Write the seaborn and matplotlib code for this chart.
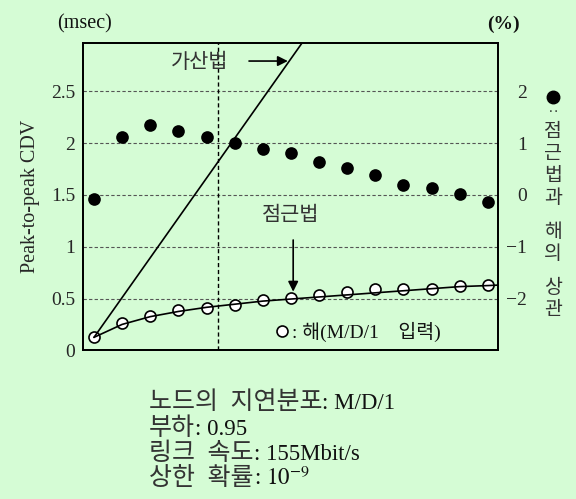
import matplotlib
matplotlib.use('Agg')
import numpy as np
import pandas as pd
import matplotlib.pyplot as plt
from matplotlib.lines import Line2D
from matplotlib.offsetbox import TextArea, HPacker, AnchoredOffsetbox
import seaborn as sns

# values
hops = [1, 2, 3, 4, 5, 6, 7, 8, 9, 10, 11, 12, 13, 14, 15]
solution_cdv = [0.125, 0.26, 0.335, 0.385, 0.405, 0.435, 0.49, 0.505, 0.53,
                0.56, 0.595, 0.595, 0.59, 0.625, 0.63]
asym_x = [1, 2, 3, 4, 5, 6, 7, 8, 9, 10, 11, 12, 13, 14, 15, 15.4]
asym_cdv = [0.125, 0.25, 0.325, 0.375, 0.415, 0.445, 0.475, 0.495, 0.515,
            0.535, 0.555, 0.575, 0.595, 0.615, 0.625, 0.63]
additive_x = [1, 9]
additive_cdv = [0.125, 3.2]
correlation_pct = [-0.07, 1.12, 1.36, 1.24, 1.12, 1.0, 0.89, 0.81, 0.64,
                   0.52, 0.39, 0.20, 0.14, 0.015, -0.13]
ref_x = 5.42

left_ticks = [0, 0.5, 1, 1.5, 2, 2.5]
left_ticklabels = ['0', '0.5', '1', '1.5', '2', '2.5']
right_ticks = [-2, -1, 0, 1, 2]
right_ticklabels = ['\u22122', '\u22121', '0', '1', '2']

corr_words = ['점근법과', '해의', '상관']
cond_kor = ['노드의\u2002지연분포', '부하', '링크\u2002속도', '상한\u2002확률']
cond_lat = [': M/D/1', ': 0.95', ': 155Mbit/s', ': $10^{-9}$']

BG = '#d5fcd5'
FS = 14
KOR_COLOR = '#333333'

sns.set_theme(style='white')
plt.rcParams['font.family'] = ['Liberation Serif', 'Noto Sans CJK KR']
plt.rcParams['mathtext.fontset'] = 'stix'
plt.rcParams['text.color'] = '#111111'

fig = plt.figure(figsize=(5.76, 4.99), dpi=100, facecolor=BG)
ax = fig.add_axes([0.1446, 0.298, 0.7205, 0.6164])
ax.set_facecolor(BG)

df_pts = pd.DataFrame({'hops': hops, 'sol': solution_cdv, 'corr': correlation_pct})

# 가산법 (additive) straight line
sns.lineplot(x=additive_x, y=additive_cdv, ax=ax, color='black', lw=1.2, zorder=4)
# 해 (M/D/1 input) open circles + asymptotic curve
sns.scatterplot(data=df_pts, x='hops', y='sol', ax=ax, s=63, color='white',
                edgecolor='black', linewidth=1.2, zorder=3)
sns.lineplot(x=asym_x, y=asym_cdv, ax=ax, color='black', lw=1.2, zorder=4)

ax.axvline(ref_x, color='black', lw=1.0, ls=(0, (3, 2)), zorder=1)

ax.set_xlim(0.62, 15.37)
ax.set_ylim(0, 2.97)
ax.set_xticks([])
ax.set_yticks(left_ticks)
ax.set_yticklabels(left_ticklabels)
ax.yaxis.grid(True, color='#555555', lw=0.8, ls=(0, (3, 2)))
ax.tick_params(axis='y', length=0, pad=5.8, labelsize=FS)
ax.set_xlabel('')
ax.set_ylabel('Peak-to-peak CDV', fontsize=14.5)
ax.yaxis.set_label_coords(-0.104, 0.5)
for sp in ax.spines.values():
    sp.set_color('black')
    sp.set_linewidth(1.3)

# correlation (%) on the right axis
ax2 = ax.twinx()
sns.scatterplot(data=df_pts, x='hops', y='corr', ax=ax2, s=83, color='black',
                edgecolor='black', linewidth=0, zorder=5)
ax2.set_ylim(-3, 2.94)
ax2.set_yticks(right_ticks)
ax2.set_yticklabels(right_ticklabels, ha='right')
ax2.tick_params(axis='y', length=0, pad=20.9, labelsize=FS)
ax2.set_ylabel('')
ax2.grid(False)
for sp in ax2.spines.values():
    sp.set_color('black')
    sp.set_linewidth(1.3)

# annotations
kor_font = dict(family=['Noto Sans CJK KR', 'DejaVu Sans'], weight='light',
                color=KOR_COLOR)
ax.annotate('', xy=(7.89, 2.793), xytext=(6.51, 2.793),
            arrowprops=dict(arrowstyle='-|>', color='black', lw=1.2,
                            mutation_scale=15, shrinkA=0, shrinkB=0))
ax.text(4.77, 2.784, '가산법', ha='center', va='center', fontsize=15, **kor_font)
ax.annotate('', xy=(8.08, 0.566), xytext=(8.08, 1.065),
            arrowprops=dict(arrowstyle='-|>', color='black', lw=1.2,
                            mutation_scale=15, shrinkA=0, shrinkB=0))
ax.text(8.0, 1.306, '점근법', ha='center', va='center', fontsize=15, **kor_font)

handle = Line2D([], [], marker='o', ls='none', mfc='white', mec='black',
                mew=1.2, ms=7.9)
ax.legend(handles=[handle], labels=[': 해(M/D/1\u3000입력)'], loc='center left',
          bbox_to_anchor=(0.456, 0.0595), frameon=False, fontsize=FS,
          handlelength=1.0, handletextpad=0.0, borderpad=0, borderaxespad=0)

# axis units
fig.text(85 / 576, 1 - 24 / 499, '(msec)', ha='center', va='center', fontsize=14.5)
fig.text(503 / 576, 1 - 24 / 499, '(%)', ha='center', va='center', fontsize=FS,
         weight='bold')

# vertical legend for the filled dots
xr = 553 / 576
fig.add_artist(Line2D([xr], [1 - 97 / 499], marker='o', color='black', ms=9,
                      transform=fig.transFigure))
fig.text(xr, 1 - 109 / 499, ':', rotation=90, ha='center', va='center', fontsize=10)
ypix = 131.7
for word in corr_words:
    for ch in word:
        fig.text(xr, 1 - ypix / 499, ch, ha='center', va='center', fontsize=FS,
                 **kor_font)
        ypix += 22
    ypix += 12

# test conditions: Korean and Latin parts sized separately, as in the original
ys = [402, 428, 453, 478]
for kor, lat, yp in zip(cond_kor, cond_lat, ys):
    box = HPacker(children=[
        TextArea(kor, textprops=dict(fontsize=18, **kor_font)),
        TextArea(lat, textprops=dict(fontsize=16.5, family='Liberation Serif')),
    ], align='baseline', pad=0, sep=0)
    anchored = AnchoredOffsetbox(loc='center left', child=box, pad=0, borderpad=0,
                                 frameon=False, bbox_to_anchor=(149 / 576, 1 - yp / 499),
                                 bbox_transform=fig.transFigure)
    fig.add_artist(anchored)

fig.savefig('out.png', dpi=100, facecolor=BG)
